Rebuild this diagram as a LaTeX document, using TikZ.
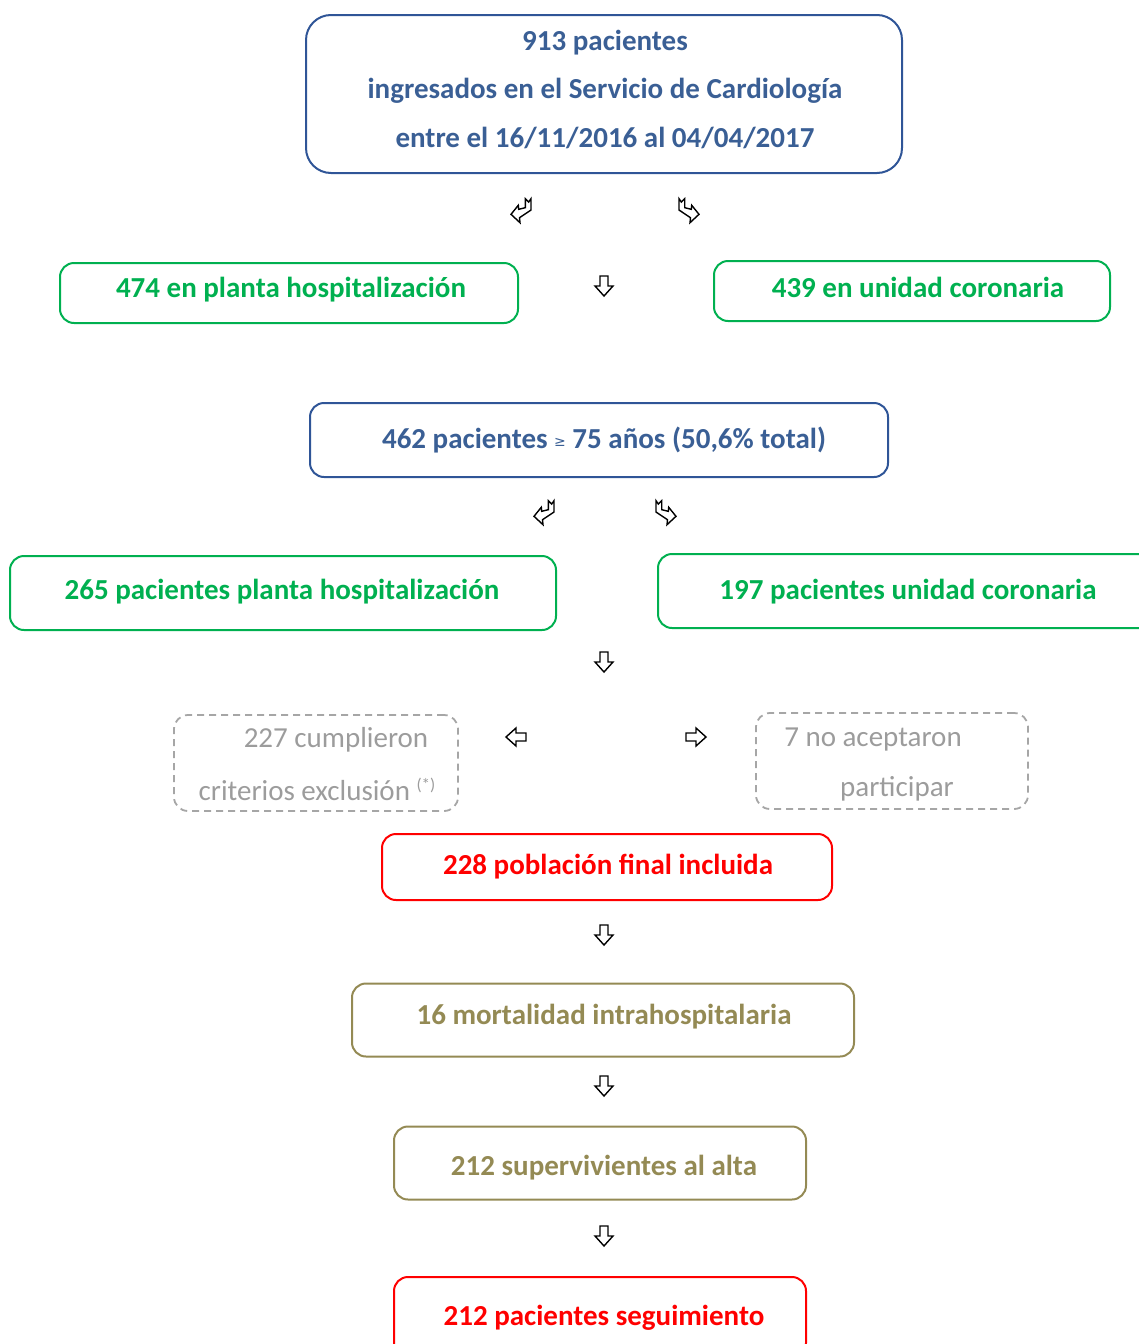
\documentclass[tikz,border=0pt]{standalone}
\usepackage{fontspec}
\setmainfont{Carlito}
\newfontfamily\dejavu{DejaVu Sans}
\definecolor{cblue}{HTML}{2F5597}
\definecolor{tblue}{HTML}{3A5F95}
\definecolor{cgreen}{HTML}{00B050}
\definecolor{cred}{HTML}{FF0000}
\definecolor{colive}{HTML}{948A54}
\definecolor{cgray}{HTML}{A6A6A6}
\definecolor{tgray}{HTML}{9C9C9C}
\tikzset{
  box/.style={draw, line width=2, rounded corners=14, inner sep=0pt},
  bluebox/.style={box, draw=cblue},
  greenbox/.style={box, draw=cgreen},
  redbox/.style={box, draw=cred},
  olivebox/.style={box, draw=colive},
  lbl/.style={inner sep=0pt, font=\bfseries\fontsize{29}{34}\selectfont},
  bluetext/.style={lbl, text=tblue},
  greentext/.style={lbl, text=cgreen},
  redtext/.style={lbl, text=cred},
  olivetext/.style={lbl, text=colive},
  dashbox/.style={draw=cgray, line width=1.8, dash pattern=on 7pt off 5pt, rounded corners=14, inner sep=0pt},
  graytext/.style={text=tgray, inner sep=0pt, font=\fontsize{29}{34}\selectfont},
  arr/.style={draw=black, line width=1.4, fill=white, line join=miter},
  curvarr/.pic={\path[arr] (-9,-11.3)--(-6.7,-8)--(-3.3,-11.3)--(-3.3,-2.3)--(3.3,-0.7)--(3.7,-4.7)--(11,4.3)--(2,12.7)--(2.5,7.7)--(-9,0)--cycle;},
  downarr/.pic={\path[arr] (-4,-10)--(4,-10)--(4,0)--(9,0)--(0,10)--(-9,0)--(-4,0)--cycle;}
}
\begin{document}
\begin{tikzpicture}[x=1pt,y=-1pt]
\useasboundingbox (0,0) rectangle (1139,1344);

\node[bluebox, rounded corners=25, minimum width=596, minimum height=158] (b1) at (604,94) {};
\node[bluetext] (t1a) at (605,43) {913 pacientes};
\node[bluetext] (t1b) at (605,91) {ingresados en el Servicio de Cardiología};
\node[bluetext] (t1c) at (605,138) {entre el 16/11/2016 al 04/04/2017};

\pic[xscale=-1] at (522,210) {curvarr};
\pic at (688,210) {curvarr};

\node[greenbox, minimum width=458, minimum height=60] (b2) at (289,293) {};
\node[greentext] (t2) at (291,290) {474 en planta hospitalización};
\pic at (604,286) {downarr};
\node[greenbox, minimum width=396, minimum height=60] (b3) at (912,291) {};
\node[greentext] (t3) at (918,287) {439 en unidad coronaria};

\node[bluebox, minimum width=578, minimum height=74] (b4) at (599,440) {};
\node[bluetext] (t4) at (604,440)
  {462 pacientes \raisebox{2pt}{\dejavu\mdseries\fontsize{14}{14}\selectfont ≥} 75 años (50,6\% total)};

\pic[xscale=-1] at (545,512) {curvarr};
\pic at (665,512) {curvarr};

\node[greenbox, minimum width=546, minimum height=74] (b5) at (283,593) {};
\node[greentext] (t5) at (282,592) {265 pacientes planta hospitalización};
\node[greenbox, minimum width=502, minimum height=74] (b6) at (909,591) {};
\node[greentext] (t6) at (908,592) {197 pacientes unidad coronaria};

\pic at (604,662) {downarr};

\node[dashbox, minimum width=284, minimum height=96] (b7) at (316,763) {};
\node[graytext] (t7a) at (336,740) {227 cumplieron};
\node[graytext] (t7b) at (317,789) {criterios exclusión \raisebox{10pt}{\fontsize{17}{17}\selectfont(*)}};

\pic[rotate=-90] at (516,737) {downarr};
\pic[rotate=90] at (696,737) {downarr};

\node[dashbox, minimum width=272, minimum height=96] (b8) at (892,761) {};
\node[graytext] (t8a) at (873,740) {7 no aceptaron};
\node[graytext] (t8b) at (897,789) {participar};

\node[redbox, minimum width=450, minimum height=66] (b9) at (607,867) {};
\node[redtext] (t9) at (608,867) {228 población final incluida};
\pic at (604,935) {downarr};
\node[olivebox, minimum width=502, minimum height=73] (b10) at (603,1020) {};
\node[olivetext] (t10) at (604,1017) {16 mortalidad intrahospitalaria};
\pic at (604,1086) {downarr};
\node[olivebox, minimum width=412, minimum height=73] (b11) at (600,1163) {};
\node[olivetext] (t11) at (604,1168) {212 supervivientes al alta};
\pic at (604,1236) {downarr};
\node[redbox, minimum width=412, minimum height=80] (b12) at (600,1317) {};
\node[redtext] (t12) at (604,1318) {212 pacientes seguimiento};
\end{tikzpicture}
\end{document}
